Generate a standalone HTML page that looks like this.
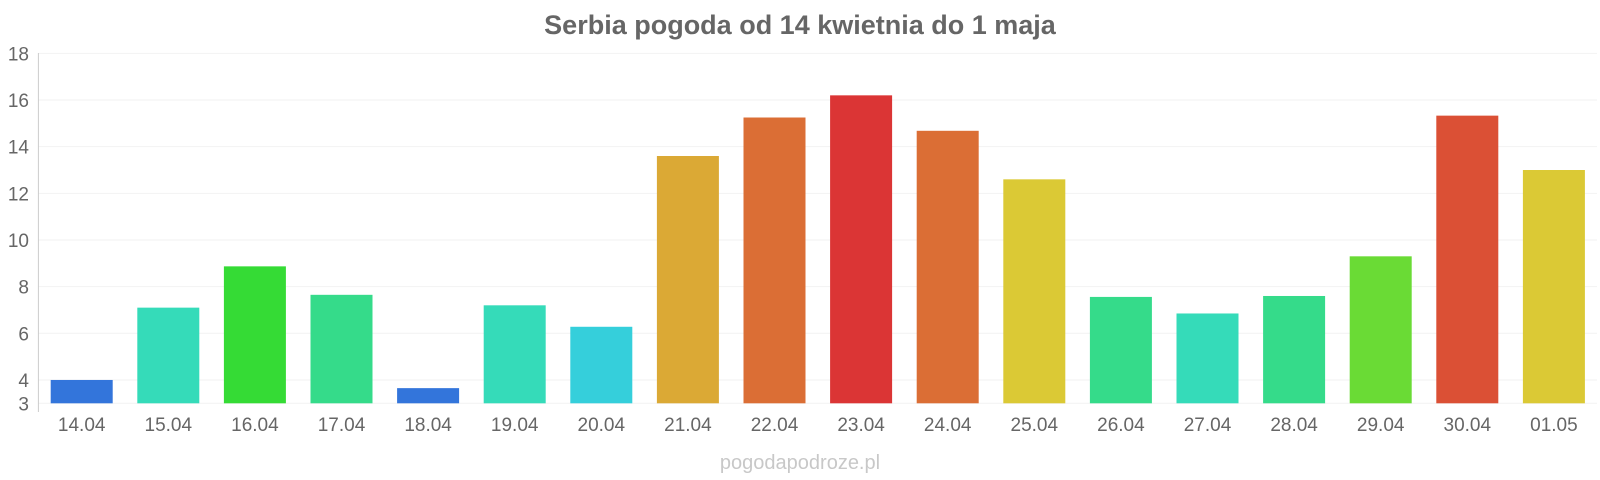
<!DOCTYPE html>
<html><head><meta charset="utf-8"><style>
html,body{margin:0;padding:0;background:#fff;}
svg{display:block;font-family:"Liberation Sans",Arial,sans-serif;}
</style></head><body>
<svg id="chart" width="1600" height="480">
<text x="800" y="34" text-anchor="middle" font-size="27" font-weight="bold" fill="#666">Serbia pogoda od 14 kwietnia do 1 maja</text>
<text x="800" y="469" text-anchor="middle" font-size="20" fill="#c8c8c8">pogodapodroze.pl</text>
<g id="grid"></g><g id="bars"></g><g id="labels"></g>
</svg>
<script>
const categories=["14.04","15.04","16.04","17.04","18.04","19.04","20.04","21.04","22.04","23.04","24.04","25.04","26.04","27.04","28.04","29.04","30.04","01.05"];
const temps=[4.0,7.1,8.87,7.65,3.65,7.2,6.28,13.6,15.25,16.2,14.68,12.6,7.56,6.85,7.6,9.3,15.33,13.0];
const barColors=["#3375db","#35dbb9","#35db35","#35db8a","#3375db","#35dbb9","#35cfdb","#dba935","#db6e35","#db3535","#db6e35","#dbc935","#35db8a","#35dbb9","#35db8a","#6adb35","#db5035","#dbc935"];
const yTicks=[3,4,6,8,10,12,14,16,18];
const NS="http://www.w3.org/2000/svg";
const left=38.4,slot=86.6,barW=62;
function y(v){return 403.3-(v-3)*23.33;}
function xc(i){return left+slot*(i+0.5);}
const grid=document.getElementById('grid'),bars=document.getElementById('bars'),labels=document.getElementById('labels');
yTicks.forEach(t=>{
  const l=document.createElementNS(NS,'line');
  l.setAttribute('x1',left);l.setAttribute('x2',1597);l.setAttribute('y1',y(t));l.setAttribute('y2',y(t));
  l.setAttribute('stroke','#f2f2f2');l.setAttribute('stroke-width','1');
  
  
  grid.appendChild(l);
  const tx=document.createElementNS(NS,'text');
  tx.setAttribute('x',29);tx.setAttribute('y',y(t)+7);tx.setAttribute('text-anchor','end');
  tx.setAttribute('font-size','19');tx.setAttribute('fill','#666');tx.textContent=t;
  
  
  labels.appendChild(tx);
});
const ax=document.createElementNS(NS,'line');
ax.setAttribute('x1',left);ax.setAttribute('x2',left);ax.setAttribute('y1',53);ax.setAttribute('y2',412);
ax.setAttribute('stroke','#ccc');


grid.appendChild(ax);
temps.forEach((v,i)=>{
  const r=document.createElementNS(NS,'rect');
  r.setAttribute('x',xc(i)-barW/2);r.setAttribute('width',barW);
  r.setAttribute('y',y(v));r.setAttribute('height',y(3)-y(v));
  r.setAttribute('fill',barColors[i]);
  
  
  bars.appendChild(r);
  const tx=document.createElementNS(NS,'text');
  tx.setAttribute('x',xc(i));tx.setAttribute('y',431);tx.setAttribute('text-anchor','middle');
  tx.setAttribute('font-size','19');tx.setAttribute('fill','#666');tx.textContent=categories[i];
  
  
  labels.appendChild(tx);
});
</script>
</body></html>
